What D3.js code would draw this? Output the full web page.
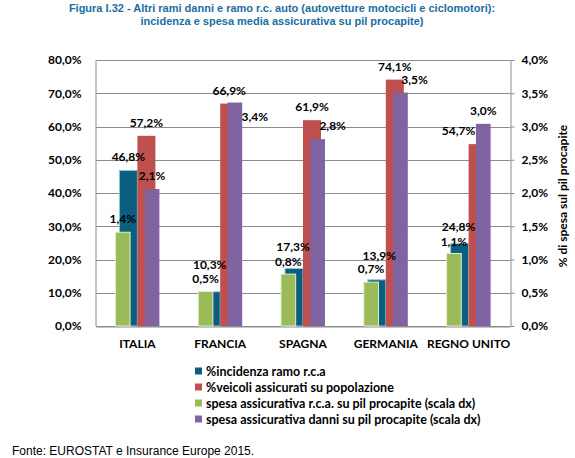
<!DOCTYPE html>
<html><head><meta charset="utf-8">
<script src="https://cdn.jsdelivr.net/npm/d3@7"></script>
<style>
body{margin:0;background:#fff;}
svg{display:block;}
</style></head>
<body>
<svg id="chart" width="575" height="458"></svg>
<script>
const categories = ["ITALIA","FRANCIA","SPAGNA","GERMANIA","REGNO UNITO"];
const incidenzaRca = [46.8, 10.3, 17.3, 13.9, 24.8];
const veicoliAssicurati = [57.2, 66.9, 61.9, 74.1, 54.7];
const spesaRca = [1.41, 0.52, 0.78, 0.66, 1.09];
const spesaDanni = [2.06, 3.36, 2.81, 3.51, 3.04];
const leftTicks = [0,10,20,30,40,50,60,70,80];
const rightTicks = [0,0.5,1,1.5,2,2.5,3,3.5,4];
const seriesNames = ["%incidenza ramo r.c.a","%veicoli assicurati su popolazione","spesa assicurativa r.c.a. su pil procapite (scala dx)","spesa assicurativa danni su pil procapite (scala dx)"];

// styling (not data)
const colors = ["#0a5f80","#c0504d","#9bbb59","#8064a2"];
const nudgeInc = [[0,0],[-1.5,-14],[-1,-8],[2.5,-11],[-1,-4]];
const nudgeVeic = [[0,0],[0,0],[0,0],[0,0],[-19,0]];
const nudgeRca = [[0,0],[0,1],[0,1],[0,0],[0,1]];
const nudgeDanni = [[0,0],[20,27],[15,0],[14,0],[0,0]];

const svg = d3.select("#chart");
const L = 96, R = 510, T = 60, B = 326;
const x = d3.scaleBand().domain(categories).range([L,R]).padding(0);
const yL = d3.scaleLinear().domain([0,80]).range([B,T]);
const yR = d3.scaleLinear().domain([0,4]).range([B,T]);
const bw = x.bandwidth();
const xP = d3.scaleBand().domain(["inc","veic"]).range([bw/2-18, bw/2+18]);
const xS = d3.scaleBand().domain(["rca","gap","danni"]).range([bw/2-22, bw/2+22]);
const fmt = v => d3.format(".1f")(v).replace(".",",") + "%";
const chartFont = "Lato, 'Open Sans', sans-serif";

// Title
const title = svg.append("text").attr("text-anchor","middle")
  .attr("font-family","'Liberation Sans', Arial, sans-serif")
  .attr("font-weight","bold").attr("font-size",11).attr("fill","#1a6ea0");
title.append("tspan").attr("x",282).attr("y",12.3).text("Figura I.32 - Altri rami danni e ramo r.c. auto (autovetture motocicli e ciclomotori):");
title.append("tspan").attr("x",282).attr("y",24.7).text("incidenza e spesa media assicurativa su pil procapite)");

// Gridlines
svg.append("g").selectAll("line").data(leftTicks).join("line")
  .attr("x1",L).attr("x2",R).attr("y1",d=>Math.round(yL(d))+0.5).attr("y2",d=>Math.round(yL(d))+0.5)
  .attr("stroke","#8c8c8c").attr("stroke-width",1);

// Left axis
const gL = svg.append("g").attr("transform",`translate(${L-0.5},0)`)
  .call(d3.axisLeft(yL).tickValues(leftTicks).tickSize(0).tickPadding(14).tickFormat(fmt));
gL.select(".domain").attr("stroke","#8c8c8c");
gL.selectAll("text").attr("font-family",chartFont).attr("font-weight","bold").attr("font-size",12).attr("fill","#000");

// Right axis
const gR = svg.append("g").attr("transform",`translate(${R+0.5},0)`)
  .call(d3.axisRight(yR).tickValues(rightTicks).tickSizeInner(4).tickSizeOuter(0).tickPadding(7).tickFormat(fmt));
gR.selectAll(".domain, line").attr("stroke","#8c8c8c");
gR.selectAll("text").attr("font-family",chartFont).attr("font-weight","bold").attr("font-size",12).attr("fill","#000");

// Bottom axis
const gB = svg.append("g").attr("transform",`translate(0,${B+0.5})`)
  .call(d3.axisBottom(x).tickSize(0).tickPadding(13));
gB.select(".domain").attr("stroke","#8c8c8c");
gB.selectAll("text").attr("font-family",chartFont).attr("font-weight","bold").attr("font-size",12).attr("fill","#000");

// Bars
const gBars = svg.append("g");
function drawBars(vals, key, xs, ys, color, stroke){
  gBars.append("g").selectAll("rect").data(vals).join("rect")
    .attr("x",(d,i)=>x(categories[i])+xs(key))
    .attr("width",xs.bandwidth())
    .attr("y",d=>ys(d)).attr("height",d=>B-ys(d))
    .attr("fill",color).attr("stroke",stroke).attr("stroke-width",stroke==="none"?0:1);
}
drawBars(incidenzaRca,"inc",xP,yL,colors[0],"#9cc6d6");
drawBars(veicoliAssicurati,"veic",xP,yL,colors[1],"none");
drawBars(spesaRca,"rca",xS,yR,colors[2],"#e4efcf");
drawBars(spesaDanni,"danni",xS,yR,colors[3],"none");

// Labels
const gLab = svg.append("g").attr("font-family",chartFont).attr("font-weight","bold").attr("font-size",12).attr("text-anchor","middle");
function drawLabels(vals,key,xs,ys,nudge){
  gLab.append("g").selectAll("text").data(vals).join("text")
    .attr("x",(d,i)=>x(categories[i])+xs(key)+xs.bandwidth()/2+nudge[i][0])
    .attr("y",(d,i)=>ys(d)-9+nudge[i][1]).text(d=>fmt(d));
}
drawLabels(spesaRca,"rca",xS,yR,nudgeRca);
drawLabels(incidenzaRca,"inc",xP,yL,nudgeInc);
drawLabels(veicoliAssicurati,"veic",xP,yL,nudgeVeic);
drawLabels(spesaDanni,"danni",xS,yR,nudgeDanni);

// Right axis title
svg.append("text").attr("transform","translate(567,196) rotate(-90)")
  .attr("text-anchor","middle").attr("font-family",chartFont).attr("font-weight","bold").attr("font-size",12)
  .text("% di spesa sul pil procapite");

// Legend
const lg = svg.append("g").attr("transform","translate(195,371)");
const items = lg.selectAll("g").data(seriesNames).join("g").attr("transform",(d,i)=>`translate(0,${i*16})`);
items.append("rect").attr("x",0).attr("y",-3.5).attr("width",7).attr("height",7).attr("fill",(d,i)=>colors[i]);
items.append("text").attr("x",11).attr("y",4.5).attr("font-family",chartFont).attr("font-weight","bold").attr("font-size",12.5).text(d=>d);

// Source
svg.append("text").attr("x",12).attr("y",454.5).attr("font-family","'Liberation Sans', Arial, sans-serif").attr("font-size",12)
  .text("Fonte: EUROSTAT e Insurance Europe 2015.");
</script>
</body></html>
